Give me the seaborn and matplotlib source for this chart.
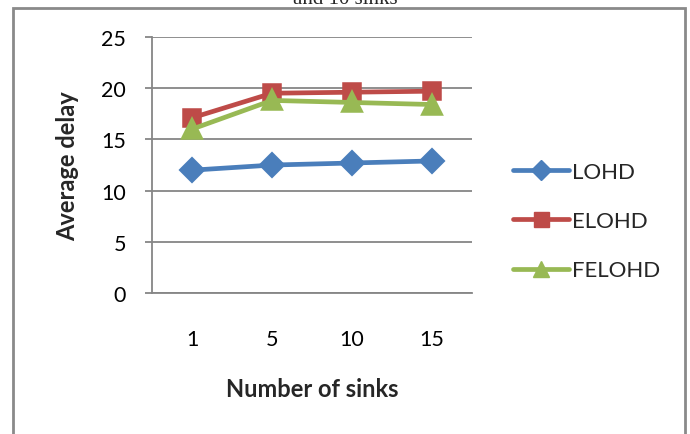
import matplotlib
matplotlib.use("Agg")
import matplotlib.pyplot as plt
from matplotlib.lines import Line2D
from matplotlib.patches import Rectangle
import seaborn as sns
import pandas as pd

sinks = ["1", "5", "10", "15"]
lohd = [12.0, 12.5, 12.7, 12.9]
elohd = [17.1, 19.5, 19.6, 19.7]
felohd = [16.0, 18.8, 18.6, 18.4]
series_names = ["LOHD", "ELOHD", "FELOHD"]
colors = ["#4A7EBB", "#BE4B48", "#98B954"]
markers = ["D", "s", "^"]
yticks = [0, 5, 10, 15, 20, 25]

df = pd.DataFrame({
    "sinks": sinks * 3,
    "delay": lohd + elohd + felohd,
    "series": [n for n in series_names for _ in sinks],
})

sns.set_theme(style="white")
plt.rcParams["font.family"] = ["Lato", "DejaVu Sans"]

W, H = 690, 435
fig = plt.figure(figsize=(W / 100, H / 100), dpi=100)
ax = fig.add_axes([152 / W, 1 - 294.3 / H, 320 / W, (294.3 - 37.8) / H])

sizes = [11, 12, 13]
lw = 3.4
for name, col, mk, ms in zip(series_names, colors, markers, sizes):
    sub = df[df["series"] == name]
    sns.pointplot(data=sub, x="sinks", y="delay", order=sinks, color=col,
                  markers=mk, errorbar=None, ax=ax,
                  markersize=ms, linewidth=lw)

ax.set_xlim(-0.5, 3.5)
ax.set_ylim(0, 25)
ax.set_yticks(yticks)
ax.yaxis.grid(True, color="#868686", linewidth=1.3)
ax.set_axisbelow(True)
for s in ["top", "right"]:
    ax.spines[s].set_visible(False)
for s in ["left", "bottom"]:
    ax.spines[s].set_color("#868686")
    ax.spines[s].set_linewidth(1.3)
ax.tick_params(axis="y", left=True, length=5, width=1.3, color="#868686",
               pad=13.6, labelsize=15.5, labelcolor="black")
ax.tick_params(axis="x", bottom=False, pad=20, labelsize=15.5, labelcolor="black")
ax.set_xlabel("Number of sinks", fontsize=17, fontweight="bold")
ax.set_ylabel("Average delay", fontsize=17, fontweight="bold")
ax.xaxis.set_label_coords(0.5, -0.325)
ax.yaxis.set_label_coords(-0.228, 0.5)

handles = [Line2D([0], [0], color=c, marker=m, markersize=s * 0.9, linewidth=lw)
           for c, m, s in zip(colors, markers, sizes)]
fig.legend(handles, series_names, loc="center left",
           bbox_to_anchor=(493 / W, 1 - 222 / H), frameon=False,
           fontsize=16, handlelength=2.5, handletextpad=0.15,
           labelspacing=1.32)

fig.patches.append(Rectangle((13 / W, -0.05), (685 - 13) / W,
                             1.05 - 8.5 / H, transform=fig.transFigure,
                             fill=False, edgecolor="#8a8a8a", linewidth=2))
fig.text(0.5, 1 - 4.5 / H, "and 10 sinks", ha="center", va="baseline",
         fontsize=15, family=["Liberation Serif"])

fig.savefig("out.png", dpi=100)
